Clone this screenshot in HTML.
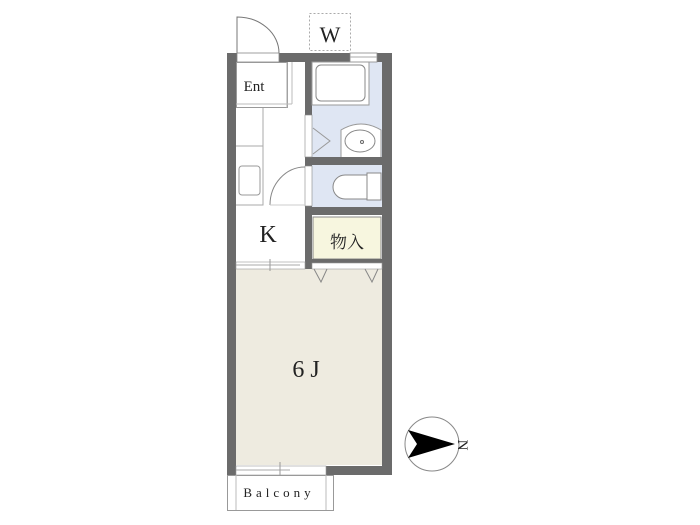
<!DOCTYPE html>
<html><head><meta charset="utf-8"><style>body{margin:0;background:#fff}svg{display:block}</style></head><body>
<svg width="700" height="525" viewBox="0 0 700 525" xmlns="http://www.w3.org/2000/svg" font-family="Liberation Serif, Noto Serif CJK SC, serif">
<!-- W box -->
<rect x="309.5" y="13.5" width="41" height="37" fill="none" stroke="#aaa" stroke-dasharray="2,2"/>
<text x="330" y="42" font-size="22" text-anchor="middle" fill="#222">W</text>
<!-- entrance door -->
<path d="M237 53 V17 A42 36 0 0 1 279 53" fill="none" stroke="#777" stroke-width="1"/>
<!-- rooms fills -->
<rect x="236" y="62" width="69" height="206" fill="#fff"/>
<rect x="312" y="62" width="70" height="96" fill="#dfe6f3"/>
<rect x="312" y="165" width="70" height="42" fill="#dfe6f3"/>
<rect x="313" y="217" width="68" height="42" fill="#f7f6df" stroke="#888" stroke-width="1"/>
<rect x="236" y="269" width="146" height="196" fill="#eeebe0"/>
<!-- walls -->
<rect x="227" y="53" width="9" height="422" fill="#6b6b6b"/>
<rect x="382" y="53" width="10" height="422" fill="#6b6b6b"/>
<rect x="227" y="53" width="165" height="9" fill="#6b6b6b"/>
<rect x="236" y="466" width="156" height="9" fill="#6b6b6b"/>
<rect x="305" y="53" width="7" height="216" fill="#6b6b6b"/>
<rect x="305" y="157" width="77" height="8" fill="#6b6b6b"/>
<rect x="305" y="207" width="77" height="8" fill="#6b6b6b"/>
<rect x="305" y="259" width="77" height="4" fill="#6b6b6b"/>
<!-- openings -->
<rect x="237" y="53" width="42" height="9" fill="#fff" stroke="#888" stroke-width="0.8"/>
<rect x="350" y="53" width="27" height="9" fill="#fff" stroke="#888" stroke-width="0.8"/>
<line x1="350" y1="57" x2="377" y2="57" stroke="#aaa"/>
<rect x="305" y="115" width="7" height="42" fill="#fff" stroke="#888" stroke-width="0.6"/>
<rect x="305" y="166" width="7" height="40" fill="#fff" stroke="#888" stroke-width="0.6"/>
<rect x="236" y="262" width="69" height="7" fill="#fff" stroke="#999" stroke-width="0.6"/>
<line x1="236" y1="265" x2="300" y2="265" stroke="#aaa"/>
<line x1="270" y1="259" x2="270" y2="271" stroke="#999"/>
<rect x="312" y="263" width="70" height="6" fill="#fff" stroke="#999" stroke-width="0.6"/>
<path d="M314 269 L321 282 L327 269 M365 269 L372 282 L378 269" fill="none" stroke="#888"/>
<rect x="236" y="466" width="90" height="9" fill="#fff" stroke="#999" stroke-width="0.6"/>
<line x1="236" y1="470" x2="290" y2="470" stroke="#aaa"/>
<line x1="280" y1="462" x2="280" y2="478" stroke="#999"/>
<!-- Ent -->
<rect x="236.5" y="62.5" width="51" height="45" fill="#fff" stroke="#999"/>
<text x="254" y="91" font-size="15" text-anchor="middle" fill="#222">Ent</text>
<line x1="287" y1="62" x2="287" y2="108" stroke="#aaa"/>
<line x1="236" y1="104" x2="292" y2="104" stroke="#bbb"/>
<line x1="292" y1="62" x2="292" y2="104" stroke="#bbb"/>
<!-- kitchen counter -->
<path d="M263 108 V205 H236 M236 146 H263" fill="none" stroke="#aaa"/>
<rect x="239" y="166" width="21" height="29" rx="3" fill="none" stroke="#999"/>
<path d="M270 205 A35 38 0 0 1 305 167" fill="none" stroke="#888"/>
<line x1="270" y1="205" x2="305" y2="205" stroke="#ccc"/>
<text x="268" y="242" font-size="24" text-anchor="middle" fill="#222">K</text>
<!-- bath -->
<path d="M312 105 H369 V62" fill="#fff" stroke="#999"/>
<rect x="312" y="62" width="57" height="43" fill="#fff" stroke="#999"/>
<rect x="316" y="65" width="49" height="36" rx="5" fill="#fff" stroke="#888"/>
<path d="M341 157 V130 Q361 118 381 130 V157" fill="#fff" stroke="#999"/>
<ellipse cx="360" cy="141" rx="15" ry="11" fill="#fff" stroke="#888"/>
<circle cx="362" cy="142" r="1.5" fill="none" stroke="#666"/>
<path d="M313 128 L330 141 L313 154" fill="none" stroke="#999"/>
<!-- toilet -->
<rect x="367" y="173" width="14" height="27" fill="#fff" stroke="#888"/>
<path d="M367 175 H345 A12 12 0 0 0 345 199 H367 Z" fill="#fff" stroke="#888"/>
<text x="347" y="248" font-size="17" text-anchor="middle" fill="#222">物入</text>
<text x="306" y="377" font-size="24" text-anchor="middle" fill="#222">6 J</text>
<!-- balcony -->
<rect x="227.5" y="475.5" width="106" height="35" fill="#fff" stroke="#999"/>
<line x1="236" y1="475" x2="236" y2="510" stroke="#bbb"/>
<line x1="326" y1="475" x2="326" y2="510" stroke="#bbb"/>
<text x="279" y="497" font-size="13" text-anchor="middle" letter-spacing="4" fill="#222">Balcony</text>
<!-- compass -->
<circle cx="432" cy="444" r="27" fill="#fff" stroke="#888"/>
<path d="M408 430 L455 444 L408 458 L417 444 Z" fill="#000"/>
<text x="463" y="450" font-size="15" fill="#222" transform="rotate(90 463 445)" text-anchor="middle">N</text>
</svg>
</body></html>
